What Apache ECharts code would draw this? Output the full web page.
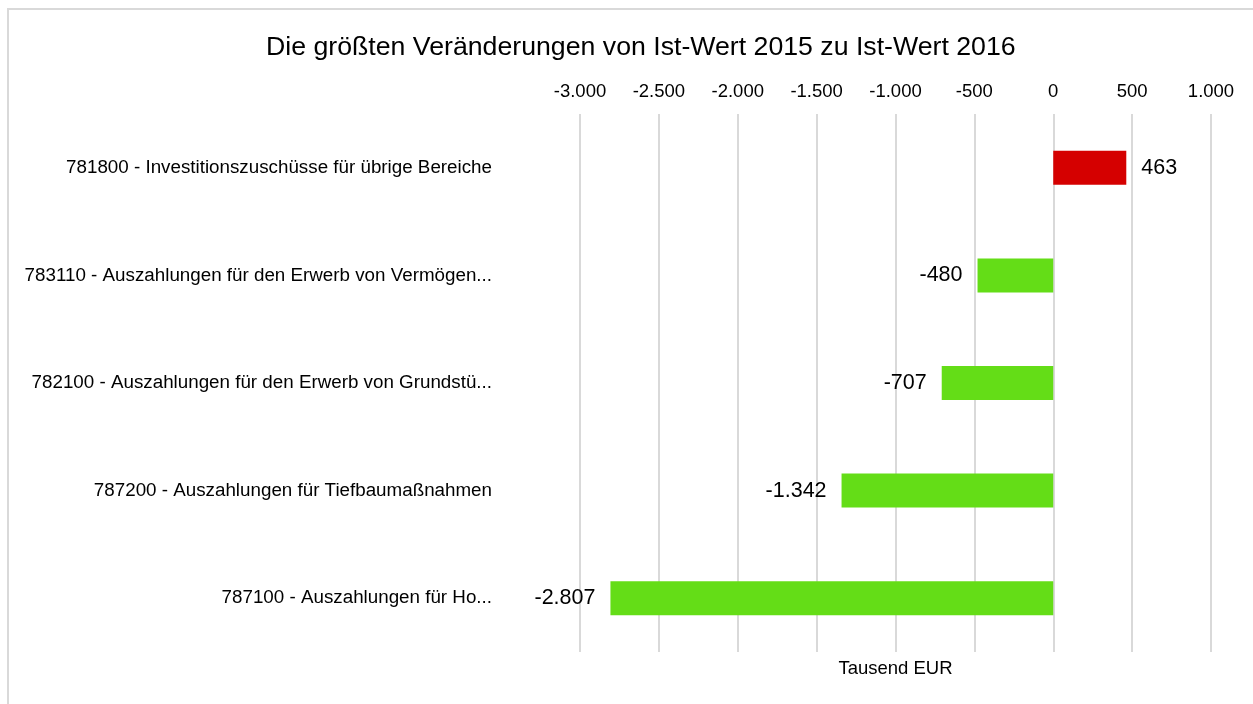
<!DOCTYPE html>
<html>
<head>
<meta charset="utf-8">
<script src="https://cdn.jsdelivr.net/npm/echarts@6/dist/echarts.min.js"></script>
<style>
  html, body { margin: 0; padding: 0; background: #fff; }
  #chart { width: 1253px; height: 704px; }
</style>
</head>
<body>
<div id="chart"></div>
<script>
// categories top to bottom
const categories = [
  '781800 - Investitionszuschüsse für übrige Bereiche',
  '783110 - Auszahlungen für den Erwerb von Vermögen...',
  '782100 - Auszahlungen für den Erwerb von Grundstü...',
  '787200 - Auszahlungen für Tiefbaumaßnahmen',
  '787100 - Auszahlungen für Ho...'
]
const values = [463, -480, -707, -1342, -2807]
const posColor = '#d50000'
const negColor = '#64dd17'

function fmt (v) {
  let s = Math.abs(v).toString().replace(/\B(?=(\d{3})+(?!\d))/g, '.')
  return (v < 0 ? '-' : '') + s
}

const chart = echarts.init(document.getElementById('chart'))
const option = {
  animation: false,
  textStyle: { fontFamily: 'Liberation Sans, Arial, sans-serif' },
  title: {
    text: 'Die größten Veränderungen von Ist-Wert 2015 zu Ist-Wert 2016',
    left: 261,
    top: 29,
    textStyle: { fontSize: 26.7, fontWeight: 'normal', color: '#000' }
  },
  grid: { left: 580, right: 42, top: 114, bottom: 52 },
  xAxis: {
    type: 'value',
    position: 'top',
    min: -3000,
    max: 1000,
    interval: 500,
    axisLine: { show: false },
    axisTick: { show: false },
    axisLabel: { color: '#000', fontSize: 18.5, margin: 13, formatter: fmt },
    splitLine: { lineStyle: { color: '#d9d9d9', width: 2 } }
  },
  yAxis: {
    type: 'category',
    inverse: true,
    data: categories,
    axisLine: { show: false },
    axisTick: { show: false },
    axisLabel: { color: '#000', fontSize: 18.8, margin: 88 }
  },
  series: [{
    type: 'bar',
    barWidth: 34,
    data: values.map(v => ({
      value: v,
      itemStyle: { color: v >= 0 ? posColor : negColor },
      label: { position: v >= 0 ? 'right' : 'left' }
    })),
    label: {
      show: true,
      distance: 15,
      fontSize: 21.5,
      color: '#000',
      formatter: p => fmt(p.value)
    }
  }],
  graphic: [
    {
      type: 'rect',
      shape: { x: 8, y: 9, width: 1300, height: 760 },
      style: { fill: 'none', stroke: '#d9d9d9', lineWidth: 2 },
      silent: true
    },
    {
      type: 'text',
      x: 895.5,
      y: 669,
      style: {
        text: 'Tausend EUR',
        fontSize: 18.5,
        fill: '#000',
        align: 'center',
        verticalAlign: 'middle',
        fontFamily: 'Liberation Sans, Arial, sans-serif'
      }
    }
  ]
}
chart.setOption(option)
</script>
</body>
</html>
